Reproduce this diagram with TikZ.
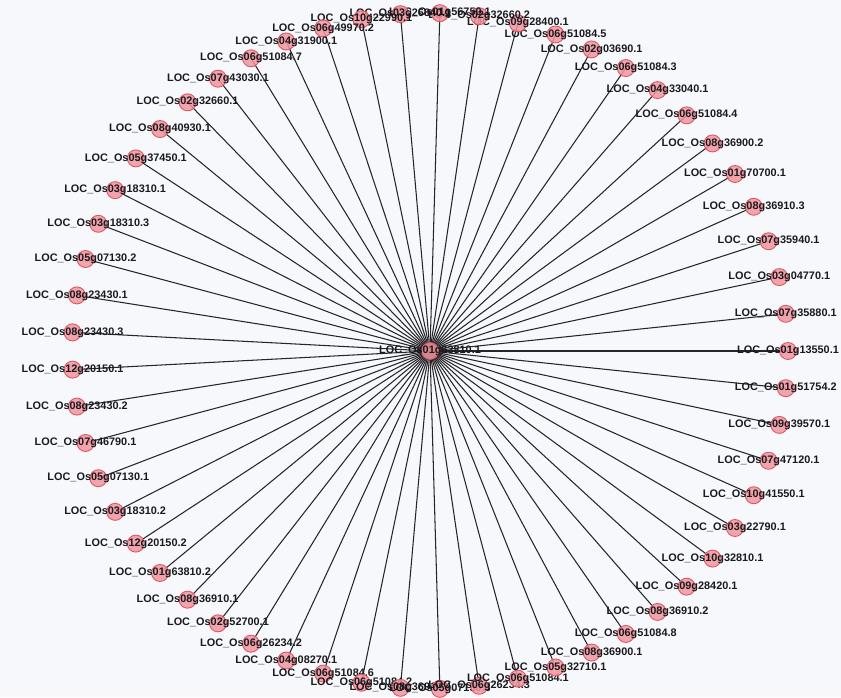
\documentclass[tikz,border=0pt]{standalone}
\usepackage{fontspec}
\usepackage{xcolor}
\usepackage{tikz}
\usetikzlibrary{backgrounds}
\newfontfamily\genefont{Liberation Sans}
\definecolor{canvasbg}{RGB}{247,248,252}
\definecolor{genefill}{RGB}{242,150,158}
\definecolor{geneborder}{RGB}{222,86,98}
\definecolor{edgegray}{RGB}{38,38,42}
\definecolor{genetextc}{RGB}{25,25,30}

\begin{document}
\begin{tikzpicture}[
  x=0.02cm, y=0.02cm,
  gene/.style={circle, draw=geneborder, fill=genefill, fill opacity=0.85, line width=0.5pt, minimum size=0.34cm, inner sep=0pt},
  genetext/.style={font=\genefont\bfseries\fontsize{6.2}{7}\selectfont, text=genetextc, inner sep=0pt, text opacity=1},
  edge/.style={edgegray, line width=0.6pt}
]
\useasboundingbox (0,0) rectangle (841,697);

\begin{scope}[shift={(430,346)}]
\node[gene, label={[genetext]center:LOC\_Os01g63810.1}] (hub) at (0,0) {};

\node[gene, label={[genetext]center:LOC\_Os01g13550.1}] (g1) at (0:358 and 338) {};
\node[gene, label={[genetext]center:LOC\_Os07g35880.1}] (g2) at (6.32:358 and 338) {};
\node[gene, label={[genetext]center:LOC\_Os03g04770.1}] (g3) at (12.63:358 and 338) {};
\node[gene, label={[genetext]center:LOC\_Os07g35940.1}] (g4) at (18.95:358 and 338) {};
\node[gene, label={[genetext]center:LOC\_Os08g36910.3}] (g5) at (25.26:358 and 338) {};
\node[gene, label={[genetext]center:LOC\_Os01g70700.1}] (g6) at (31.58:358 and 338) {};
\node[gene, label={[genetext]center:LOC\_Os08g36900.2}] (g7) at (37.89:358 and 338) {};
\node[gene, label={[genetext]center:LOC\_Os06g51084.4}] (g8) at (44.21:358 and 338) {};
\node[gene, label={[genetext]center:LOC\_Os04g33040.1}] (g9) at (50.53:358 and 338) {};
\node[gene, label={[genetext]center:LOC\_Os06g51084.3}] (g10) at (56.84:358 and 338) {};
\node[gene, label={[genetext]center:LOC\_Os02g03690.1}] (g11) at (63.16:358 and 338) {};
\node[gene, label={[genetext]center:LOC\_Os06g51084.5}] (g12) at (69.47:358 and 338) {};
\node[gene, label={[genetext]center:LOC\_Os09g28400.1}] (g13) at (75.79:358 and 338) {};
\node[gene, label={[genetext]center:LOC\_Os02g32660.2}] (g14) at (82.11:358 and 338) {};
\node[gene, label={[genetext]center:LOC\_Os01g56750.1}] (g15) at (88.42:358 and 338) {};
\node[gene, label={[genetext]center:LOC\_Os03g26840.1}] (g16) at (94.74:358 and 338) {};
\node[gene, label={[genetext]center:LOC\_Os10g22990.1}] (g17) at (101.05:358 and 338) {};
\node[gene, label={[genetext]center:LOC\_Os06g49970.2}] (g18) at (107.37:358 and 338) {};
\node[gene, label={[genetext]center:LOC\_Os04g31900.1}] (g19) at (113.68:358 and 338) {};
\node[gene, label={[genetext]center:LOC\_Os06g51084.7}] (g20) at (120:358 and 338) {};
\node[gene, label={[genetext]center:LOC\_Os07g43030.1}] (g21) at (126.32:358 and 338) {};
\node[gene, label={[genetext]center:LOC\_Os02g32660.1}] (g22) at (132.63:358 and 338) {};
\node[gene, label={[genetext]center:LOC\_Os08g40930.1}] (g23) at (138.95:358 and 338) {};
\node[gene, label={[genetext]center:LOC\_Os05g37450.1}] (g24) at (145.26:358 and 338) {};
\node[gene, label={[genetext]center:LOC\_Os03g18310.1}] (g25) at (151.58:358 and 338) {};
\node[gene, label={[genetext]center:LOC\_Os03g18310.3}] (g26) at (157.89:358 and 338) {};
\node[gene, label={[genetext]center:LOC\_Os05g07130.2}] (g27) at (164.21:358 and 338) {};
\node[gene, label={[genetext]center:LOC\_Os08g23430.1}] (g28) at (170.53:358 and 338) {};
\node[gene, label={[genetext]center:LOC\_Os08g23430.3}] (g29) at (176.84:358 and 338) {};
\node[gene, label={[genetext]center:LOC\_Os12g20150.1}] (g30) at (183.16:358 and 338) {};
\node[gene, label={[genetext]center:LOC\_Os08g23430.2}] (g31) at (189.47:358 and 338) {};
\node[gene, label={[genetext]center:LOC\_Os07g46790.1}] (g32) at (195.79:358 and 338) {};
\node[gene, label={[genetext]center:LOC\_Os05g07130.1}] (g33) at (202.11:358 and 338) {};
\node[gene, label={[genetext]center:LOC\_Os03g18310.2}] (g34) at (208.42:358 and 338) {};
\node[gene, label={[genetext]center:LOC\_Os12g20150.2}] (g35) at (214.74:358 and 338) {};
\node[gene, label={[genetext]center:LOC\_Os01g63810.2}] (g36) at (221.05:358 and 338) {};
\node[gene, label={[genetext]center:LOC\_Os08g36910.1}] (g37) at (227.37:358 and 338) {};
\node[gene, label={[genetext]center:LOC\_Os02g52700.1}] (g38) at (233.68:358 and 338) {};
\node[gene, label={[genetext]center:LOC\_Os06g26234.2}] (g39) at (240:358 and 338) {};
\node[gene, label={[genetext]center:LOC\_Os04g08270.1}] (g40) at (246.32:358 and 338) {};
\node[gene, label={[genetext]center:LOC\_Os06g51084.6}] (g41) at (252.63:358 and 338) {};
\node[gene, label={[genetext]center:LOC\_Os06g51084.2}] (g42) at (258.95:358 and 338) {};
\node[gene, label={[genetext]center:LOC\_Os08g36910.4}] (g43) at (265.26:358 and 338) {};
\node[gene, label={[genetext]center:LOC\_Os05g07130.3}] (g44) at (271.58:358 and 338) {};
\node[gene, label={[genetext]center:LOC\_Os06g26234.3}] (g45) at (277.89:358 and 338) {};
\node[gene, label={[genetext]center:LOC\_Os06g51084.1}] (g46) at (284.21:358 and 338) {};
\node[gene, label={[genetext]center:LOC\_Os05g32710.1}] (g47) at (290.53:358 and 338) {};
\node[gene, label={[genetext]center:LOC\_Os08g36900.1}] (g48) at (296.84:358 and 338) {};
\node[gene, label={[genetext]center:LOC\_Os06g51084.8}] (g49) at (303.16:358 and 338) {};
\node[gene, label={[genetext]center:LOC\_Os08g36910.2}] (g50) at (309.47:358 and 338) {};
\node[gene, label={[genetext]center:LOC\_Os09g28420.1}] (g51) at (315.79:358 and 338) {};
\node[gene, label={[genetext]center:LOC\_Os10g32810.1}] (g52) at (322.11:358 and 338) {};
\node[gene, label={[genetext]center:LOC\_Os03g22790.1}] (g53) at (328.42:358 and 338) {};
\node[gene, label={[genetext]center:LOC\_Os10g41550.1}] (g54) at (334.74:358 and 338) {};
\node[gene, label={[genetext]center:LOC\_Os07g47120.1}] (g55) at (341.05:358 and 338) {};
\node[gene, label={[genetext]center:LOC\_Os09g39570.1}] (g56) at (347.37:358 and 338) {};
\node[gene, label={[genetext]center:LOC\_Os01g51754.2}] (g57) at (353.68:358 and 338) {};
\end{scope}

% spokes and canvas behind the genes
\begin{scope}[on background layer]
\fill[canvasbg] (0,0) rectangle (841,697);
\foreach \i in {1,...,57}
  \draw[edge] (hub.center) -- (g\i.center);
\end{scope}

\end{tikzpicture}
\end{document}
